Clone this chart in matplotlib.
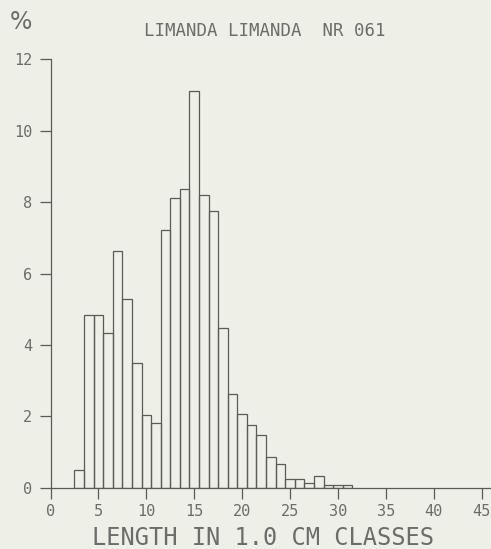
import matplotlib.pyplot as plt
import numpy as np

# length class (cm, class mid-point) and percentage of catch
lengths = [3, 4, 5, 6, 7, 8, 9, 10, 11, 12, 13, 14, 15, 16, 17,
           18, 19, 20, 21, 22, 23, 24, 25, 26, 27, 28, 29, 30, 31]
percent = [0.5, 4.85, 4.85, 4.33, 6.62, 5.29, 3.5, 2.02, 1.82, 7.23, 8.13, 8.38, 11.12, 8.19, 7.76,
           4.47, 2.61, 2.07, 1.74, 1.46, 0.85, 0.67, 0.24, 0.24, 0.14, 0.33, 0.07, 0.07, 0.07]

x_ticks = list(range(0, 50, 5))
y_ticks = list(range(0, 14, 2))

title = 'LIMANDA LIMANDA  NR 061'
x_label = 'LENGTH IN 1.0 CM CLASSES'

BG = '#eef0e8'
INK = '#5a5a58'
TEXT = '#6c6c6a'  # lighter grey so the lettering reads as thin pen strokes
FONT = 'DejaVu Sans Mono'

W, H = 491, 549
fig = plt.figure(figsize=(W / 100, H / 100), dpi=100, facecolor=BG)

# axes placed in pixel units: x=0 at 50.5 px, y=0 at 487.5 px from the top
x0, x1 = 50.5, 491.2
y0, y1 = 487.5, 59.5
ax = fig.add_axes([x0 / W, (H - y0) / H, (x1 - x0) / W, (y0 - y1) / H])
ax.set_facecolor(BG)

ax.bar(lengths, percent, width=1.0, fill=False, edgecolor=INK, linewidth=0.9)

ax.set_xlim(0, 46)
ax.set_ylim(0, 12)
ax.set_xticks(x_ticks)
ax.set_yticks(y_ticks)

for side in ('top', 'right'):
    ax.spines[side].set_visible(False)
for side in ('left', 'bottom'):
    ax.spines[side].set_color(INK)
    ax.spines[side].set_linewidth(0.9)

ax.tick_params(axis='both', direction='out', length=8, width=0.9, color=INK,
               labelcolor=TEXT)
ax.tick_params(axis='x', pad=4)
ax.tick_params(axis='y', pad=5)
for lbl in ax.get_xticklabels() + ax.get_yticklabels():
    lbl.set_fontfamily(FONT)
    lbl.set_fontsize(11)

fig.text(265 / W, 1 - 31 / H, title, ha='center', va='center',
         fontfamily=FONT, fontsize=12.5, color=TEXT)
fig.text(21 / W, 1 - 22 / H, '%', ha='center', va='center',
         fontfamily='DejaVu Sans', fontsize=17, color=TEXT)
fig.text(263 / W, 1 - 538 / H, x_label, ha='center', va='center',
         fontfamily=FONT, fontsize=17, color=TEXT)

fig.savefig('out.png', dpi=100, facecolor=BG)
